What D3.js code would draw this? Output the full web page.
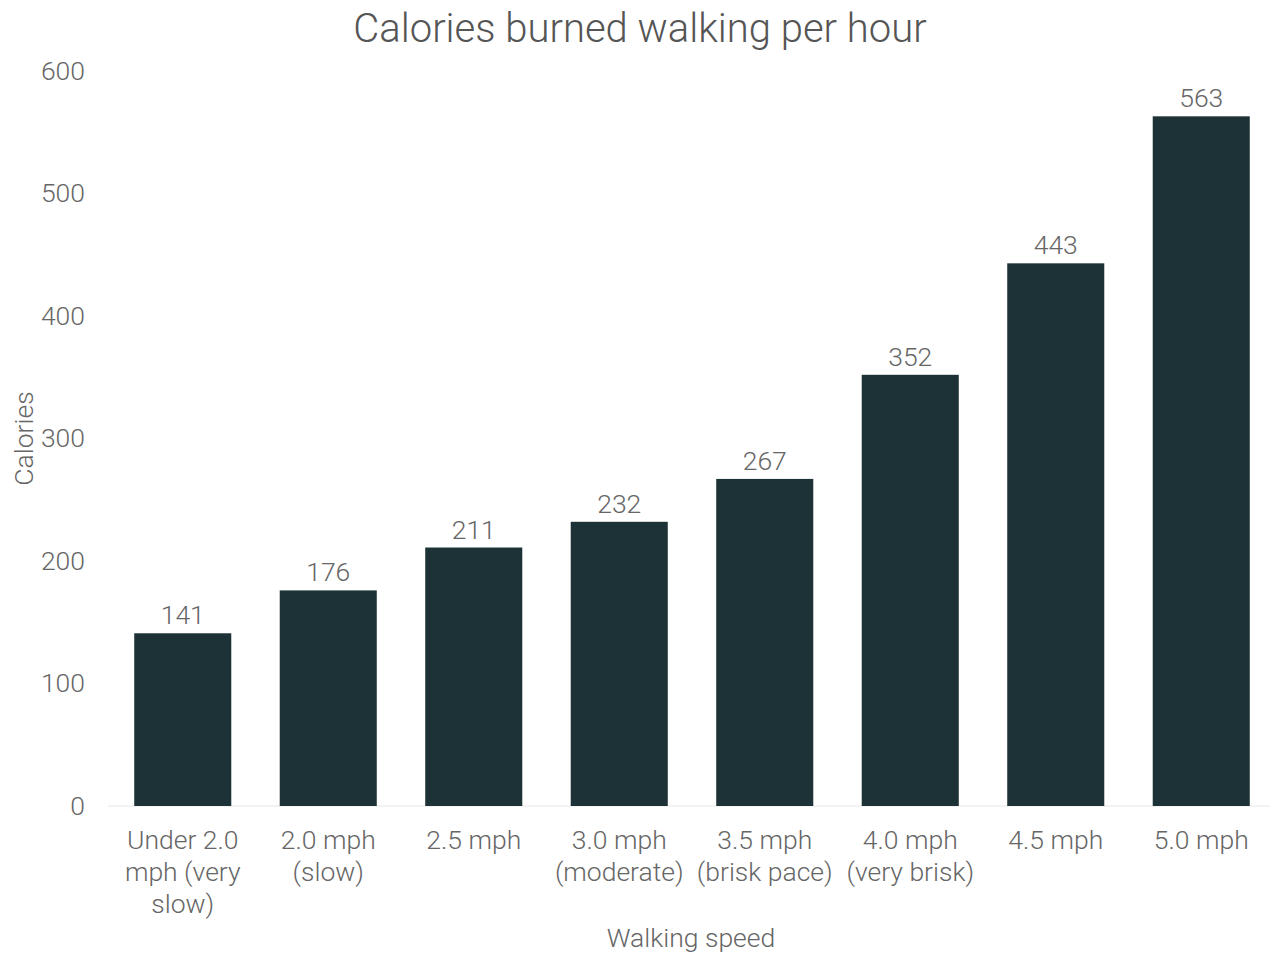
<!DOCTYPE html>
<html>
<head>
<meta charset="utf-8">
<script src="https://cdn.jsdelivr.net/npm/d3@7"></script>
<style>
  body { margin: 0; background: #fff; }
  text { font-family: Roboto, "Noto Sans", sans-serif; font-weight: 300; }
</style>
</head>
<body>
<div id="chart"></div>
<script>
// data
const categories = [
    ["Under 2.0", "mph (very", "slow)"],
    ["2.0 mph", "(slow)"],
    ["2.5 mph"],
    ["3.0 mph", "(moderate)"],
    ["3.5 mph", "(brisk pace)"],
    ["4.0 mph", "(very brisk)"],
    ["4.5 mph"],
    ["5.0 mph"]
];
const calories = [141, 176, 211, 232, 267, 352, 443, 563];
const yTicks = [0, 100, 200, 300, 400, 500, 600];

const W = 1280, H = 960;
const margin = { top: 71, right: 6, bottom: 154, left: 110 };
const width = W - margin.left - margin.right;
const height = H - margin.top - margin.bottom;

const svg = d3.select("#chart").append("svg")
    .attr("width", W)
    .attr("height", H);

const g = svg.append("g")
    .attr("transform", `translate(${margin.left},${margin.top})`);

const ids = d3.range(categories.length);

// scales
const x = d3.scaleBand()
    .domain(ids)
    .range([0, width])
    .paddingInner(0.333)
    .paddingOuter(0.1665);

const y = d3.scaleLinear()
    .domain([0, 600])
    .range([height, 0]);

// zero line
g.append("line")
    .attr("x1", -2)
    .attr("x2", width - 4)
    .attr("y1", y(0))
    .attr("y2", y(0))
    .attr("stroke", "#e6e6e6")
    .attr("stroke-width", 1);

// bars
g.selectAll("rect.bar")
    .data(ids)
    .enter().append("rect")
    .attr("class", "bar")
    .attr("x", i => x(i))
    .attr("y", i => y(calories[i]))
    .attr("width", x.bandwidth())
    .attr("height", i => y(0) - y(calories[i]))
    .attr("fill", "#1d3236");

// value labels
g.selectAll("text.val")
    .data(ids)
    .enter().append("text")
    .attr("class", "val")
    .attr("x", i => x(i) + x.bandwidth() / 2)
    .attr("y", i => y(calories[i]) - 9)
    .attr("text-anchor", "middle")
    .attr("fill", "#666")
    .style("font-size", "26.5px")
    .text(i => calories[i]);

// y axis
const yAxis = g.append("g")
    .call(d3.axisLeft(y).tickValues(yTicks).tickSize(0).tickPadding(25));
yAxis.select(".domain").remove();
yAxis.selectAll("text")
    .attr("fill", "#666")
    .style("font-size", "26.5px")
    .style("font-family", "Roboto, sans-serif")
    .style("font-weight", 300);

// x axis labels
const xl = g.selectAll("text.cat")
    .data(ids)
    .enter().append("text")
    .attr("class", "cat")
    .attr("x", i => x(i) + x.bandwidth() / 2)
    .attr("y", height + 43)
    .attr("text-anchor", "middle")
    .attr("fill", "#666")
    .style("font-size", "26.5px");
xl.selectAll("tspan")
    .data(i => categories[i].map(t => ({ t, cx: x(i) + x.bandwidth() / 2 })))
    .enter().append("tspan")
    .attr("x", d => d.cx)
    .attr("dy", (d, j) => j === 0 ? 0 : 32)
    .text(d => d.t);

// title
svg.append("text")
    .attr("x", 640)
    .attr("y", 42)
    .attr("text-anchor", "middle")
    .attr("fill", "#555")
    .style("font-size", "40px")
    .text("Calories burned walking per hour");

// axis titles
svg.append("text")
    .attr("x", margin.left + width / 2 - 1)
    .attr("y", 947)
    .attr("text-anchor", "middle")
    .attr("fill", "#666")
    .style("font-size", "26.5px")
    .text("Walking speed");

svg.append("text")
    .attr("transform", "rotate(-90)")
    .attr("x", -(margin.top + height / 2))
    .attr("y", 33)
    .attr("text-anchor", "middle")
    .attr("fill", "#666")
    .style("font-size", "26.5px")
    .text("Calories");
</script>
</body>
</html>
